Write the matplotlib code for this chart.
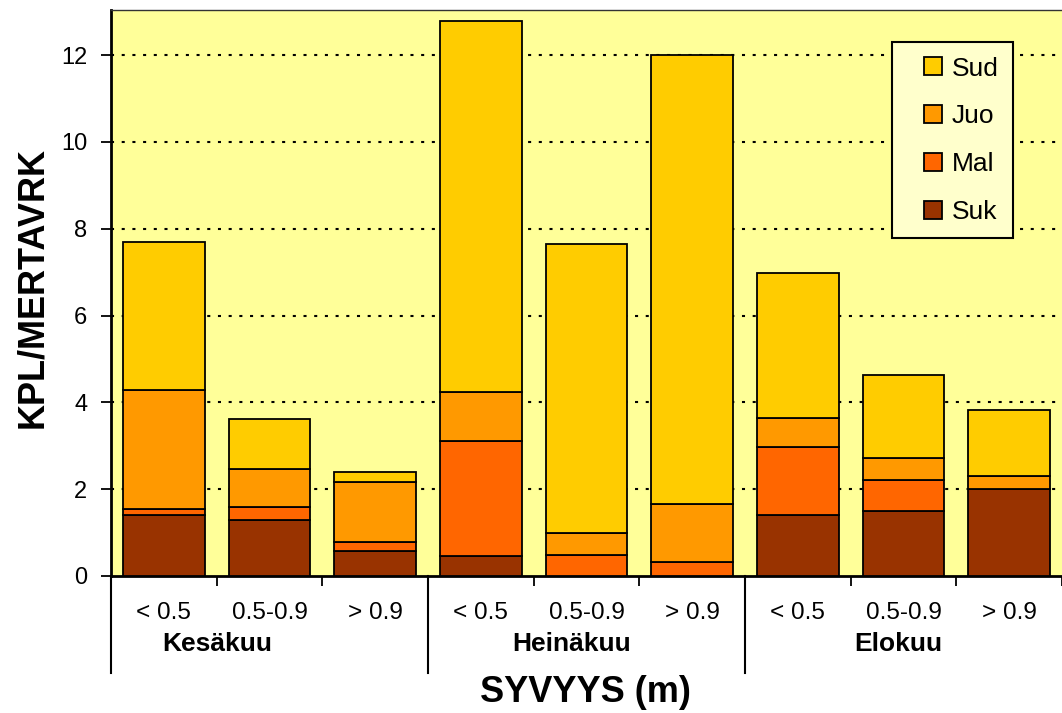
import matplotlib
matplotlib.use("Agg")
import matplotlib.pyplot as plt
from matplotlib.lines import Line2D
import numpy as np

plt.rcParams['font.family'] = ['Liberation Sans', 'DejaVu Sans']
plt.rcParams['lines.scale_dashes'] = False

depths = ["< 0.5", "0.5-0.9", "> 0.9"] * 3
months = ["Kesäkuu", "Heinäkuu", "Elokuu"]
month_label_pos = [0.51, 3.86, 6.95]

suk = [1.41, 1.29, 0.58, 0.45, 0.00, 0.00, 1.41, 1.50, 2.00]
mal = [0.14, 0.30, 0.20, 2.65, 0.49, 0.32, 1.57, 0.72, 0.00]
juo = [2.74, 0.87, 1.39, 1.14, 0.50, 1.35, 0.67, 0.51, 0.30]
sud = [3.40, 1.15, 0.22, 8.54, 6.66, 10.33, 3.33, 1.90, 1.52]

series = [("Suk", suk, "#993300"), ("Mal", mal, "#FF6600"),
          ("Juo", juo, "#FF9900"), ("Sud", sud, "#FFCC00")]
colors = {n: c for n, _, c in series}

W, H = 1062, 713
fig = plt.figure(figsize=(W / 100, H / 100), dpi=100)
ax = fig.add_axes([111 / W, 1 - 576 / H, (1062 - 111) / W, (576 - 10) / H])
ax.set_facecolor("#FFFF99")

x = np.arange(len(depths))
bottom = np.zeros(len(x))
for name, vals, col in series:
    ax.bar(x, vals, width=0.776, bottom=bottom, color=col,
           edgecolor="black", linewidth=1.3, zorder=3, label=name)
    bottom += np.array(vals)

ax.set_xlim(-0.5, 8.5)
ax.set_ylim(0, 13.04)
ax.set_yticks([0, 2, 4, 6, 8, 10, 12])
for yv in [2, 4, 6, 8, 10, 12]:
    ax.axhline(yv, color="black", linewidth=1.5, linestyle=(0, (2.2, 5.5)), zorder=1)

ax.tick_params(axis='y', labelsize=17, length=7, width=1.3, pad=10, direction='out')
ax.set_xticks(np.arange(-0.5, 9.0, 1.0))
ax.set_xticklabels([])
ax.tick_params(axis='x', length=7, width=1.3, direction='out')

for s in ['left', 'bottom']:
    ax.spines[s].set_linewidth(2)
ax.spines['top'].set_linewidth(1)
ax.spines['top'].set_color("#333333")
ax.spines['right'].set_visible(False)

tr = ax.get_xaxis_transform()
for xi, lab in zip(x, depths):
    ax.text(xi, -0.0654, lab, transform=tr, ha='center', va='center', fontsize=17.5)
for xp, m in zip(month_label_pos, months):
    ax.text(xp, -0.1201, m, transform=tr, ha='center', va='center',
            fontsize=19, fontweight='bold')
for xb in [-0.5, 2.5, 5.5]:
    ax.plot([xb, xb], [0, -(673 - 576) / 566], transform=tr, color='black',
            linewidth=1.5, clip_on=False)

fig.text(585 / W, 1 - 692 / H, "SYVYYS (m)", ha='center', va='center',
         fontsize=26, fontweight='bold')
fig.text(33 / W, 1 - 288 / H, "KPL/MERTAVRK", ha='center', va='center',
         rotation=90, fontsize=26, fontweight='bold')

leg_names = ["Sud", "Juo", "Mal", "Suk"]
leg_handles = [Line2D([], [], linestyle='none', marker='s', markersize=13.5,
                      markerfacecolor=colors[n], markeredgecolor='black',
                      markeredgewidth=1.3) for n in leg_names]
leg = ax.legend(leg_handles, leg_names,
                loc='upper left', bbox_to_anchor=((892 - 111) / 951, 1 - (42 - 10) / 566),
                fontsize=19, frameon=True, fancybox=False, framealpha=1,
                facecolor="#FFFFCC", edgecolor="black", handlelength=2.0,
                handletextpad=-0.3, labelspacing=0.9,
                borderpad=0.55, borderaxespad=0)
leg.get_frame().set_linewidth(1.5)
leg.set_zorder(5)

fig.savefig("out.png", dpi=100)
